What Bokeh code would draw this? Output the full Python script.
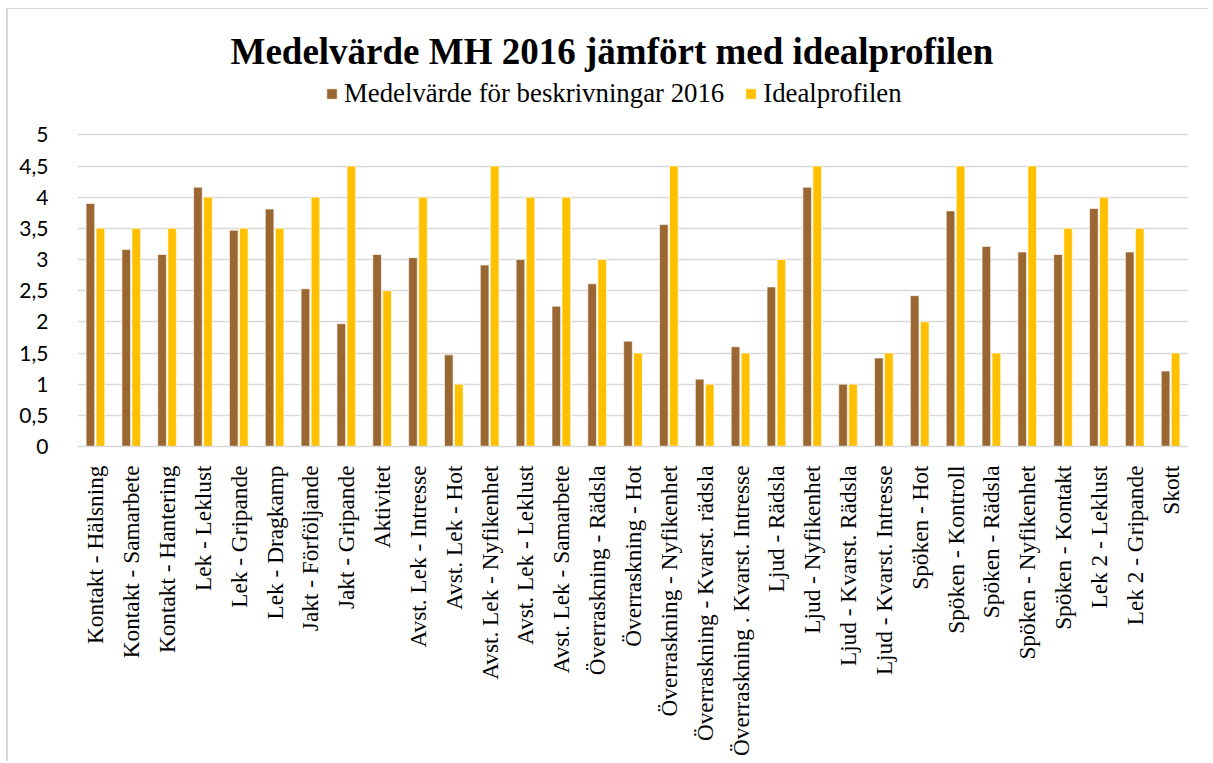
from bokeh.plotting import figure
from bokeh.models import FactorRange, ColumnDataSource, Legend, LegendItem, CustomJSTickFormatter, FixedTicker
from bokeh.transform import dodge
from bokeh.embed import file_html
from bokeh.resources import INLINE
import math

categories = [
    "Kontakt - Hälsning", "Kontakt - Samarbete", "Kontakt - Hantering",
    "Lek - Leklust", "Lek - Gripande", "Lek - Dragkamp",
    "Jakt - Förföljande", "Jakt - Gripande", "Aktivitet",
    "Avst. Lek - Intresse", "Avst. Lek - Hot", "Avst. Lek - Nyfikenhet",
    "Avst. Lek - Leklust", "Avst. Lek - Samarbete",
    "Överraskning - Rädsla", "Överraskning - Hot", "Överraskning - Nyfikenhet",
    "Överraskning - Kvarst. rädsla", "Överraskning . Kvarst. Intresse",
    "Ljud - Rädsla", "Ljud - Nyfikenhet", "Ljud - Kvarst. Rädsla", "Ljud - Kvarst. Intresse",
    "Spöken - Hot", "Spöken - Kontroll", "Spöken - Rädsla", "Spöken - Nyfikenhet",
    "Spöken - Kontakt", "Lek 2 - Leklust", "Lek 2 - Gripande", "Skott",
]
medelvarde = [3.90, 3.16, 3.08, 4.16, 3.47, 3.81, 2.53, 1.97, 3.08, 3.03,
              1.47, 2.91, 3.00, 2.25, 2.61, 1.69, 3.56, 1.08, 1.60, 2.56,
              4.16, 1.00, 1.42, 2.42, 3.78, 3.21, 3.12, 3.08, 3.82, 3.12, 1.21]
ideal = [3.5, 3.5, 3.5, 4.0, 3.5, 3.5, 4.0, 4.5, 2.5, 4.0,
         1.0, 4.5, 4.0, 4.0, 3.0, 1.5, 4.5, 1.0, 1.5, 3.0,
         4.5, 1.0, 1.5, 2.0, 4.5, 1.5, 4.5, 3.5, 4.0, 3.5, 1.5]
y_ticks = [0, 0.5, 1, 1.5, 2, 2.5, 3, 3.5, 4, 4.5, 5]

series_names = ["Medelvärde för beskrivningar 2016", "Idealprofilen"]
title_text = "Medelvärde MH 2016 jämfört med idealprofilen"

BROWN = "#9A6733"
YELLOW = "#FFC000"
GRID = "#d9d9d9"
SERIF = "Liberation Serif"

src = ColumnDataSource(dict(cat=categories, mean=medelvarde, ideal=ideal))

p = figure(x_range=FactorRange(factors=categories), y_range=(0, 6), title=title_text,
           width=1202, height=753, output_backend="svg", toolbar_location=None,
           min_border_left=69, min_border_right=22, min_border_top=63, min_border_bottom=316)
p.styles = {"border-top": "1px solid #d9d9d9", "border-left": "2px solid #d9d9d9",
            "margin-left": "6px", "margin-top": "8px"}

r1 = p.vbar(x=dodge("cat", -0.14, range=p.x_range), top="mean", width=0.24, source=src,
            fill_color=BROWN, line_color="white", line_width=0.6)
r2 = p.vbar(x=dodge("cat", 0.14, range=p.x_range), top="ideal", width=0.24, source=src,
            fill_color=YELLOW, line_color="white", line_width=0.6)

p.title.align = "left"
p.title.offset = 153
p.title.text_font = SERIF
p.title.text_font_size = "37px"
p.title.text_font_style = "bold"
p.title.text_color = "#000000"
p.title.standoff = 2

p.outline_line_color = None
p.xgrid.grid_line_color = None
p.ygrid.grid_line_color = GRID
p.ygrid.grid_line_width = 1.3

p.yaxis.ticker = FixedTicker(ticks=y_ticks)
p.yaxis.formatter = CustomJSTickFormatter(code="return tick.toString().replace('.', ',');")
p.yaxis.axis_line_color = None
p.yaxis.major_tick_line_color = None
p.yaxis.minor_tick_line_color = None
p.yaxis.major_label_text_font = "Lato"
p.yaxis.major_label_text_font_size = "21px"
p.yaxis.major_label_text_color = "#000000"
p.yaxis.major_label_standoff = 23

p.xaxis.axis_line_color = GRID
p.xaxis.axis_line_width = 1.3
p.xaxis.major_tick_line_color = None
p.xaxis.minor_tick_line_color = None
p.xaxis.major_label_orientation = math.pi / 2
p.xaxis.major_label_text_font = SERIF
p.xaxis.major_label_text_font_size = "23.3px"
p.xaxis.major_label_text_color = "#000000"
p.xaxis.major_label_standoff = 13

legend = Legend(items=[LegendItem(label=series_names[0], renderers=[r1]),
                       LegendItem(label=series_names[1], renderers=[r2])],
                orientation="horizontal", location=(248, 337),
                label_text_font=SERIF, label_text_font_size="26.8px",
                label_text_color="#000000",
                glyph_width=13, glyph_height=13, spacing=20, label_standoff=6,
                border_line_color=None, background_fill_alpha=0,
                padding=0, margin=0)
p.add_layout(legend, "center")

open("out.html", "w").write(file_html(p, INLINE))
